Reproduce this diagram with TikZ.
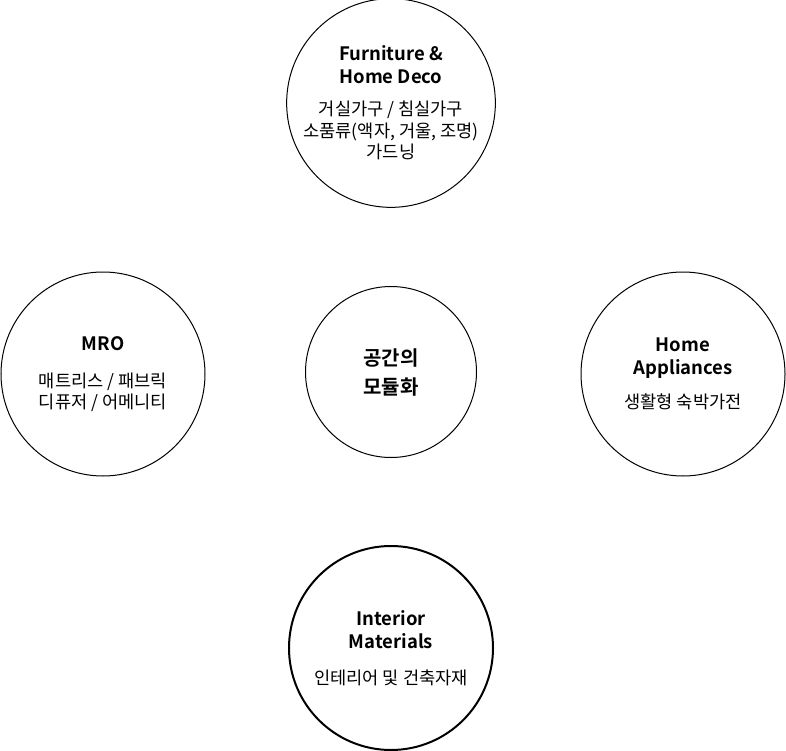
\documentclass[tikz,border=0pt]{standalone}
\usepackage{fontspec}
\setmainfont{Noto Sans CJK KR}[BoldFont={Noto Sans CJK KR Bold}]
\usetikzlibrary{positioning}

\newcommand{\hd}[1]{{\bfseries\fontsize{18.5}{23}\selectfont #1}}

\tikzset{
  topic/.style={circle,draw,line width=1pt,minimum size=204pt,inner sep=0pt,
    align=center,font=\fontsize{17.6}{21.5}\selectfont},
  hub/.style={circle,draw,line width=1pt,minimum size=171pt,inner sep=0pt,
    align=center,font=\bfseries\fontsize{20}{29}\selectfont},
  heavy/.style={line width=2pt}
}

\begin{document}
\begin{tikzpicture}[x=1pt,y=-1pt]
        \useasboundingbox (0,0) rectangle (786,751);

        \node [hub] (hub) at (391,372) {공간의\\모듈화};

        \node [topic] (deco) at (391,103)
            {\hd{Furniture \&}\\[1.5pt]\hd{Home Deco}\\[10.5pt]거실가구 / 침실가구\\소품류(액자, 거울, 조명)\\가드닝};
        \node [topic] (mro) at (103,374)
            {\hd{MRO}\\[15.5pt]매트리스 / 패브릭\\디퓨저 / 어메니티};
        \node [topic] (appl) at (683,374)
            {\hd{Home}\\[1.5pt]\hd{Appliances}\\[12.5pt]생활형 숙박가전};
        \node [topic,heavy] (intr) at (391,648)
            {\hd{Interior}\\[1.5pt]\hd{Materials}\\[14.5pt]인테리어 및 건축자재};
    \end{tikzpicture}
\end{document}
